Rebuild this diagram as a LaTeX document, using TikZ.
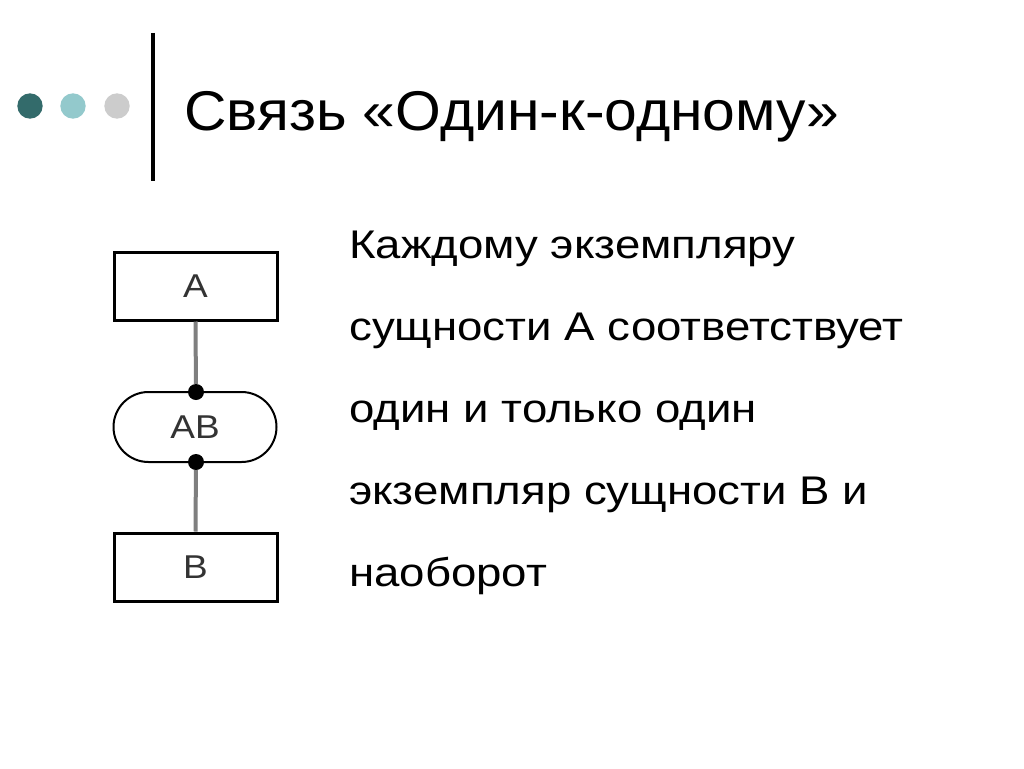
\documentclass[tikz,border=0pt]{standalone}
\usepackage{fontspec}
\setmainfont{Liberation Sans}
\newfontfamily\bodyfont[FakeStretch=1.14]{Liberation Sans}
\newfontfamily\titlefont[FakeStretch=1.05]{Liberation Sans}
\newfontfamily\boxfont[FakeStretch=1.12]{Liberation Sans}
\definecolor{dotA}{HTML}{336B6B}
\definecolor{dotB}{HTML}{93C9CC}
\definecolor{dotC}{HTML}{CCCCCC}
\definecolor{lnk}{HTML}{7F7F7F}
\definecolor{lbl}{HTML}{333333}
\begin{document}
\begin{tikzpicture}[x=1pt,y=-1pt,
  ent/.style={draw=black,line width=3pt,fill=white,minimum width=163pt,minimum height=68pt,inner sep=0pt,font=\boxfont\fontsize{33}{33}\selectfont,text=lbl},
  rel/.style={draw=black,line width=2pt,fill=white,rounded corners=35pt,minimum width=163pt,minimum height=70pt,inner sep=0pt,font=\boxfont\fontsize{33}{33}\selectfont,text=lbl},
  link/.style={draw=lnk,line width=4pt},
  jdot/.style={circle,fill=black,minimum size=16pt,inner sep=0pt},
  body/.style={anchor=base west,inner sep=0pt,font=\bodyfont\fontsize{40}{40}\selectfont,text=black}]
\useasboundingbox[fill=white] (0,0) rectangle (1024,768);
% header
\fill[dotA] (30,106) circle (12.7);
\fill[dotB] (73,106) circle (12.7);
\fill[dotC] (117,106) circle (12.7);
\draw[line width=4pt] (153,33) -- (153,181);
\node[anchor=base west,font=\titlefont\fontsize{56}{56}\selectfont,inner sep=0pt] (title) at (184,130) {Связь «Один-к-одному»};
% diagram
\node[ent] (A) at (195.5,286) {A};
\node[ent] (B) at (195.5,567) {B};
\node[rel] (AB) at (195,427) {AB};
\node[jdot] (d1) at (196,392) {};
\node[jdot] (d2) at (196,462) {};
\draw[link] (A.south) -- (d1);
\draw[link] (d2) -- (B.north);
% body text
\node[body] (l1) at (349,258) {Каждому экземпляру};
\node[body] (l2) at (349,340) {сущности A соответствует};
\node[body] (l3) at (349,422) {один и только один};
\node[body] (l4) at (349,504) {экземпляр сущности B и};
\node[body] (l5) at (349,586) {наоборот};
\end{tikzpicture}
\end{document}
